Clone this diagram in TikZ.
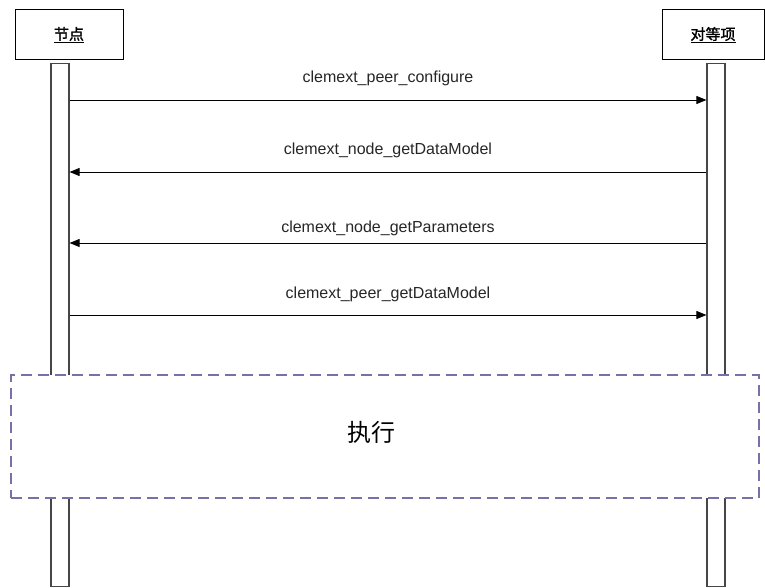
\documentclass[tikz,border=0pt]{standalone}
\usepackage{fontspec}
\setmainfont{Liberation Sans}
\newfontfamily\cjk{Noto Sans CJK SC}
\newfontfamily\cjkbold[FakeBold=1.5]{Noto Sans CJK SC}
\usetikzlibrary{arrows.meta}
\definecolor{dashcol}{RGB}{118,114,168}
\definecolor{barcol}{RGB}{70,70,70}
\begin{document}
\begin{tikzpicture}[x=1pt,y=-1pt,
  header/.style={draw=black,line width=1pt,fill=white,minimum width=108pt,minimum height=50pt,inner sep=0pt,font=\cjkbold\fontsize{15}{18}\selectfont},
  lifebar/.style={draw=barcol,line width=1.2pt,fill=white,minimum width=18pt,inner sep=0pt},
  msg/.style={draw=black,line width=0.9pt,-{Triangle[length=10pt,width=8pt]}},
  msglabel/.style={font=\fontsize{16}{19}\selectfont,inner sep=0pt,text=black!85},
  execbox/.style={draw=dashcol,line width=1.3pt,dash pattern=on 11pt off 6pt,fill=white,minimum width=748pt,minimum height=123pt,inner sep=0pt}]
\useasboundingbox (0,0) rectangle (765,588);
\node[header] (nodeh) at (69,35) {\underline{节点}};
\node[header,minimum width=102pt] (peerh) at (713,35) {\underline{对等项}};
\node[lifebar,minimum height=523pt] (lbar) at (60,325) {};
\node[lifebar,minimum height=523pt] (rbar) at (716,325) {};
\coordinate (y1) at (0,100);
\coordinate (y2) at (0,172);
\coordinate (y3) at (0,243);
\coordinate (y4) at (0,315);
\node[msglabel] (l1) at (388,78) {clemext\_peer\_configure};
\node[msglabel] (l2) at (388,150) {clemext\_node\_getDataModel};
\node[msglabel] (l3) at (388,228) {clemext\_node\_getParameters};
\node[msglabel] (l4) at (388,294) {clemext\_peer\_getDataModel};
\draw[msg] (lbar.east |- y1) -- (rbar.west |- y1);
\draw[msg] (rbar.west |- y2) -- (lbar.east |- y2);
\draw[msg] (rbar.west |- y3) -- (lbar.east |- y3);
\draw[msg] (lbar.east |- y4) -- (rbar.west |- y4);
\node[execbox] (exec) at (385,436.5) {};
\node[font=\cjk\fontsize{24}{28}\selectfont,inner sep=0pt] (exectext) at (371,432) {执行};
\end{tikzpicture}
\end{document}
